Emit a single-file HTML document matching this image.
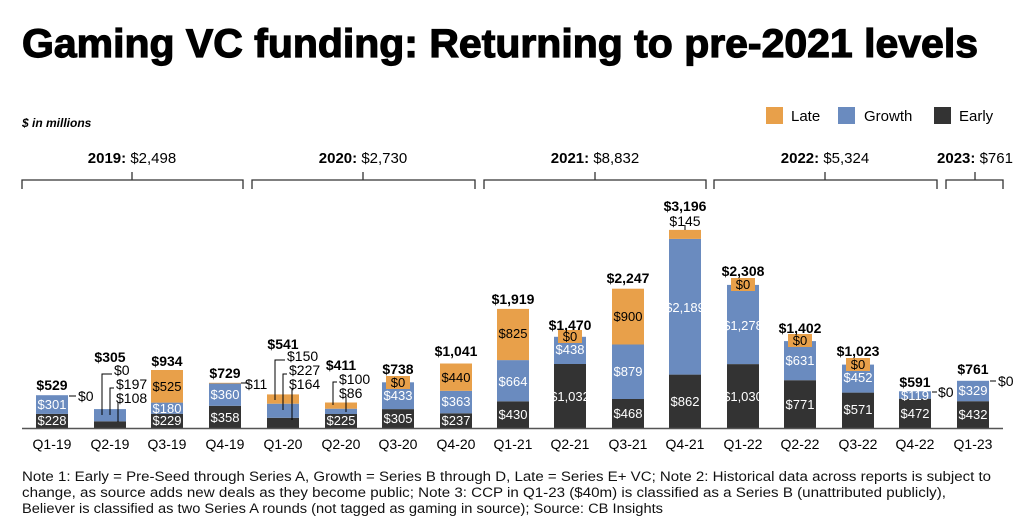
<!DOCTYPE html>
<html><head><meta charset="utf-8"><style>
body{margin:0;background:#fff;width:1024px;height:518px;overflow:hidden;font-family:"Liberation Sans",sans-serif}
</style></head><body>
<svg width="1024" height="518" xmlns="http://www.w3.org/2000/svg" font-family="Liberation Sans, sans-serif">
<text x="22" y="57" font-size="40" font-weight="bold" fill="#000" stroke="#000" stroke-width="1.2" textLength="956" lengthAdjust="spacingAndGlyphs">Gaming VC funding: Returning to pre-2021 levels</text>
<text x="22" y="127" font-size="12" font-weight="bold" font-style="italic">$ in millions</text>
<rect x="766" y="107" width="17" height="17" fill="#e8a04a"/><text x="791" y="121" font-size="15">Late</text>
<rect x="838" y="107" width="17" height="17" fill="#6a8bbf"/><text x="864" y="121" font-size="15">Growth</text>
<rect x="934" y="107" width="17" height="17" fill="#333"/><text x="959" y="121" font-size="15">Early</text>
<g font-size="15" text-anchor="middle">
<text x="132" y="163"><tspan font-weight="bold">2019:</tspan> $2,498</text>
<text x="363" y="163"><tspan font-weight="bold">2020:</tspan> $2,730</text>
<text x="595" y="163"><tspan font-weight="bold">2021:</tspan> $8,832</text>
<text x="825" y="163"><tspan font-weight="bold">2022:</tspan> $5,324</text>
<text x="975" y="163"><tspan font-weight="bold">2023:</tspan> $761</text>
</g>
<g stroke="#333" stroke-width="1.3" fill="none">
<path d="M22 189V180H243V189M132 180V172"/>
<path d="M252 189V180H475V189M363 180V172"/>
<path d="M484 189V180H706V189M595 180V172"/>
<path d="M714 189V180H937V189M825 180V172"/>
<path d="M946 189V180H1003V189M975 180V172"/>
</g>
<g>
<rect x="36" y="413.9" width="32" height="14.1" fill="#333"/><rect x="36" y="395.2" width="32" height="18.7" fill="#6a8bbf"/>
<rect x="94" y="421.3" width="32" height="6.7" fill="#333"/><rect x="94" y="409.1" width="32" height="12.2" fill="#6a8bbf"/>
<rect x="151" y="413.8" width="32" height="14.2" fill="#333"/><rect x="151" y="402.6" width="32" height="11.2" fill="#6a8bbf"/><rect x="151" y="370" width="32" height="32.6" fill="#e8a04a"/>
<rect x="209" y="405.8" width="32" height="22.2" fill="#333"/><rect x="209" y="383.5" width="32" height="22.3" fill="#6a8bbf"/><rect x="209" y="382.8" width="32" height="0.7" fill="#e8a04a"/>
<rect x="267" y="417.8" width="32" height="10.2" fill="#333"/><rect x="267" y="403.7" width="32" height="14.1" fill="#6a8bbf"/><rect x="267" y="394.4" width="32" height="9.3" fill="#e8a04a"/>
<rect x="325" y="414" width="32" height="14" fill="#333"/><rect x="325" y="408.7" width="32" height="5.3" fill="#6a8bbf"/><rect x="325" y="402.5" width="32" height="6.2" fill="#e8a04a"/>
<rect x="382" y="409.1" width="32" height="18.9" fill="#333"/><rect x="382" y="382.3" width="32" height="26.8" fill="#6a8bbf"/>
<rect x="440" y="413.3" width="32" height="14.7" fill="#333"/><rect x="440" y="390.8" width="32" height="22.5" fill="#6a8bbf"/><rect x="440" y="363.5" width="32" height="27.3" fill="#e8a04a"/>
<rect x="497" y="401.3" width="32" height="26.7" fill="#333"/><rect x="497" y="360.1" width="32" height="41.2" fill="#6a8bbf"/><rect x="497" y="308.9" width="32" height="51.2" fill="#e8a04a"/>
<rect x="554" y="364" width="32" height="64" fill="#333"/><rect x="554" y="336.8" width="32" height="27.2" fill="#6a8bbf"/>
<rect x="612" y="399" width="32" height="29" fill="#333"/><rect x="612" y="344.5" width="32" height="54.5" fill="#6a8bbf"/><rect x="612" y="288.7" width="32" height="55.8" fill="#e8a04a"/>
<rect x="669" y="374.6" width="32" height="53.4" fill="#333"/><rect x="669" y="238.9" width="32" height="135.7" fill="#6a8bbf"/><rect x="669" y="229.9" width="32" height="9" fill="#e8a04a"/>
<rect x="727" y="364.1" width="32" height="63.9" fill="#333"/><rect x="727" y="284.9" width="32" height="79.2" fill="#6a8bbf"/>
<rect x="784" y="380.2" width="32" height="47.8" fill="#333"/><rect x="784" y="341.1" width="32" height="39.1" fill="#6a8bbf"/>
<rect x="842" y="392.6" width="32" height="35.4" fill="#333"/><rect x="842" y="364.6" width="32" height="28" fill="#6a8bbf"/>
<rect x="899" y="398.7" width="32" height="29.3" fill="#333"/><rect x="899" y="391.3" width="32" height="7.4" fill="#6a8bbf"/>
<rect x="957" y="401.2" width="32" height="26.8" fill="#333"/><rect x="957" y="380.8" width="32" height="20.4" fill="#6a8bbf"/>
</g>
<line x1="22" y1="428.5" x2="1003" y2="428.5" stroke="#555" stroke-width="1.5"/>
<g fill="#e8a04a">
<rect x="386" y="376" width="24" height="13"/><rect x="558" y="330" width="24" height="13"/>
<rect x="731" y="278" width="24" height="13"/><rect x="788" y="334" width="24" height="13"/><rect x="846" y="358" width="24" height="13"/>
</g>
<g stroke="#000" stroke-width="1" fill="none">
<path d="M69 396H76"/>
<path d="M102 415V374H112M110 415V388H114M118 422V402"/>
<path d="M241 383H248"/>
<path d="M275 400V360H285M283 410V374H287M292 420V388"/>
<path d="M333 405V382H337M346 412V397"/>
<path d="M685 230V225"/>
<path d="M932 392H937M990 381H996"/>
</g>
<g font-size="14" fill="#000">
<text x="78" y="401">$0</text>
<text x="114" y="375">$0</text><text x="116" y="389">$197</text><text x="116" y="403">$108</text>
<text x="245" y="389">$11</text>
<text x="287" y="361">$150</text><text x="289" y="375">$227</text><text x="289" y="389">$164</text>
<text x="339" y="384">$100</text><text x="339" y="398">$86</text>
<text x="938" y="397">$0</text><text x="998" y="386">$0</text>
<text x="685" y="226" text-anchor="middle">$145</text>
</g>
<g font-size="14" font-weight="bold" text-anchor="middle">
<text x="52" y="390">$529</text><text x="110" y="362">$305</text><text x="167" y="366">$934</text><text x="225" y="378">$729</text>
<text x="283" y="349">$541</text><text x="341" y="370">$411</text><text x="398" y="374">$738</text><text x="456" y="356">$1,041</text>
<text x="513" y="304">$1,919</text><text x="570" y="330">$1,470</text><text x="628" y="283">$2,247</text><text x="685" y="211">$3,196</text>
<text x="743" y="276">$2,308</text><text x="800" y="333">$1,402</text><text x="858" y="356">$1,023</text><text x="915" y="387">$591</text><text x="973" y="374">$761</text>
</g>
<g font-size="13" text-anchor="middle" fill="#fff">
<text x="52" y="425">$228</text><text x="52" y="409">$301</text>
<text x="167" y="425">$229</text><text x="167" y="413">$180</text><text x="167" y="391" fill="#000">$525</text>
<text x="225" y="422">$358</text><text x="225" y="399">$360</text>
<text x="341" y="425">$225</text>
<text x="398" y="423">$305</text><text x="398" y="400">$433</text><text x="398" y="387" fill="#000">$0</text>
<text x="456" y="425">$237</text><text x="456" y="406">$363</text><text x="456" y="382" fill="#000">$440</text>
<text x="513" y="419">$430</text><text x="513" y="386">$664</text><text x="513" y="338" fill="#000">$825</text>
<text x="570" y="401">$1,032</text><text x="570" y="354">$438</text><text x="570" y="341" fill="#000">$0</text>
<text x="628" y="418">$468</text><text x="628" y="376">$879</text><text x="628" y="321" fill="#000">$900</text>
<text x="685" y="406">$862</text><text x="685" y="312">$2,189</text>
<text x="743" y="401">$1,030</text><text x="743" y="330">$1,278</text><text x="743" y="289" fill="#000">$0</text>
<text x="800" y="409">$771</text><text x="800" y="365">$631</text><text x="800" y="345" fill="#000">$0</text>
<text x="858" y="414">$571</text><text x="858" y="382">$452</text><text x="858" y="369" fill="#000">$0</text>
<text x="915" y="418">$472</text><text x="915" y="400">$119</text>
<text x="973" y="419">$432</text><text x="973" y="395">$329</text>
</g>
<g font-size="14" text-anchor="middle">
<text x="52" y="449">Q1-19</text><text x="110" y="449">Q2-19</text><text x="167" y="449">Q3-19</text><text x="225" y="449">Q4-19</text>
<text x="283" y="449">Q1-20</text><text x="341" y="449">Q2-20</text><text x="398" y="449">Q3-20</text><text x="456" y="449">Q4-20</text>
<text x="513" y="449">Q1-21</text><text x="570" y="449">Q2-21</text><text x="628" y="449">Q3-21</text><text x="685" y="449">Q4-21</text>
<text x="743" y="449">Q1-22</text><text x="800" y="449">Q2-22</text><text x="858" y="449">Q3-22</text><text x="915" y="449">Q4-22</text><text x="973" y="449">Q1-23</text>
</g>
<g font-size="13.5" fill="#111">
<text x="22" y="481" textLength="969" lengthAdjust="spacingAndGlyphs">Note 1: Early = Pre-Seed through Series A, Growth = Series B through D, Late = Series E+ VC; Note 2: Historical data across reports is subject to</text>
<text x="22" y="497" textLength="924" lengthAdjust="spacingAndGlyphs">change, as source adds new deals as they become public; Note 3: CCP in Q1-23 ($40m) is classified as a Series B (unattributed publicly),</text>
<text x="22" y="513" textLength="641" lengthAdjust="spacingAndGlyphs">Believer is classified as two Series A rounds (not tagged as gaming in source); Source: CB Insights</text>
</g>
</svg>
</body></html>
